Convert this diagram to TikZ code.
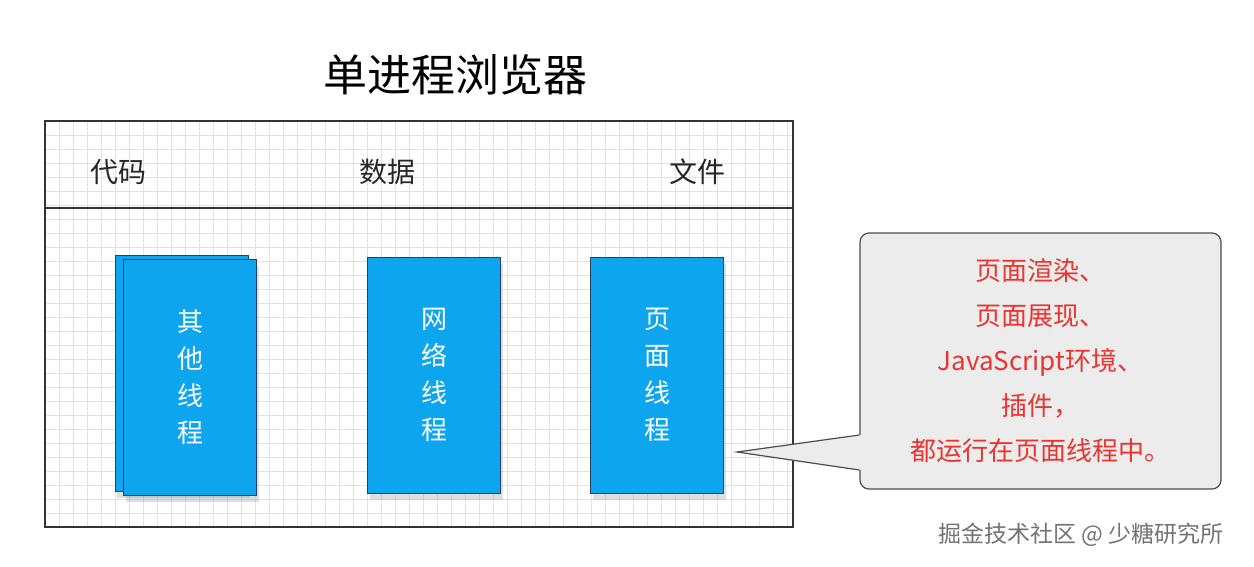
\documentclass[tikz,border=0pt]{standalone}
\usepackage{fontspec}
\setmainfont{Noto Sans CJK SC}
\usetikzlibrary{positioning, shadows, calc}
\definecolor{ThreadBlue}{HTML}{0DA6EE}
\definecolor{ThreadEdge}{HTML}{1F4466}
\definecolor{NoteRed}{HTML}{E8352F}
\definecolor{NoteFill}{HTML}{ECECEC}
\definecolor{GridLine}{HTML}{E2E2E2}
\tikzset{
  frame/.style={draw=black!80, line width=1.4pt},
  gridline/.style={draw=GridLine, line width=0.6pt},
  tbox/.style={draw=ThreadEdge, line width=1pt, fill=ThreadBlue, text=white,
    minimum width=133, minimum height=236, align=center, inner sep=0pt,
    font=\fontsize{26}{37}\selectfont,
    drop shadow={shadow xshift=2pt, shadow yshift=-7pt, opacity=0.25}},
  seglabel/.style={font=\fontsize{28}{30}\selectfont, text=black!85},
  note/.style={draw=black!70, line width=1.2pt, fill=NoteFill, rounded corners=9pt,
    minimum width=361, minimum height=256, align=center, text=NoteRed,
    font=\fontsize{26}{45}\selectfont},
}
\begin{document}
\begin{tikzpicture}[x=1pt, y=-1pt]
  \useasboundingbox (0,0) rectangle (1254,566);
  % browser frame with grid
  \foreach \gx in {45,59,...,793} \draw[gridline] (\gx,121) -- (\gx,527);
  \foreach \gy in {121,135,...,527} \draw[gridline] (45,\gy) -- (793,\gy);
  \node[frame, minimum width=748, minimum height=406, inner sep=0pt] (browser) at (419,324) {};
  \draw[frame] (browser.west |- 0,208) coordinate (divl) -- (browser.east |- 0,208) coordinate (divr);
  \node[font=\fontsize{44}{48}\selectfont] (title) at (455,75) {单进程浏览器};
  \node[seglabel] (code) at (118,172) {代码};
  \node[seglabel] (data) at (387,172) {数据};
  \node[seglabel] (file) at (697,172) {文件};
  % threads
  \node[tbox] (back) at (181.5,373) {};
  \node[tbox] (other) at (190,377) {其\\他\\线\\程};
  \node[tbox] (net) at (434,375) {网\\络\\线\\程};
  \node[tbox] (page) at (657,375) {页\\面\\线\\程};
  % callout
  \node[note] (callout) at (1040.5,361) {页面渲染、\\页面展现、\\JavaScript环境、\\插件，\\都运行在页面线程中。};
  \coordinate (tip) at (737,452);
  \fill[NoteFill] ($(callout.west |- 0,435)+(2,0)$) -- (tip) -- ($(callout.west |- 0,470)+(2,0)$) -- cycle;
  \draw[black!70, line width=1.2pt] (callout.west |- 0,435) -- (tip) -- (callout.west |- 0,470);
  \node[text=black!55, font=\fontsize{23}{25}\selectfont] (mark) at (1081,535) {掘金技术社区 @ 少糖研究所};
\end{tikzpicture}
\end{document}
